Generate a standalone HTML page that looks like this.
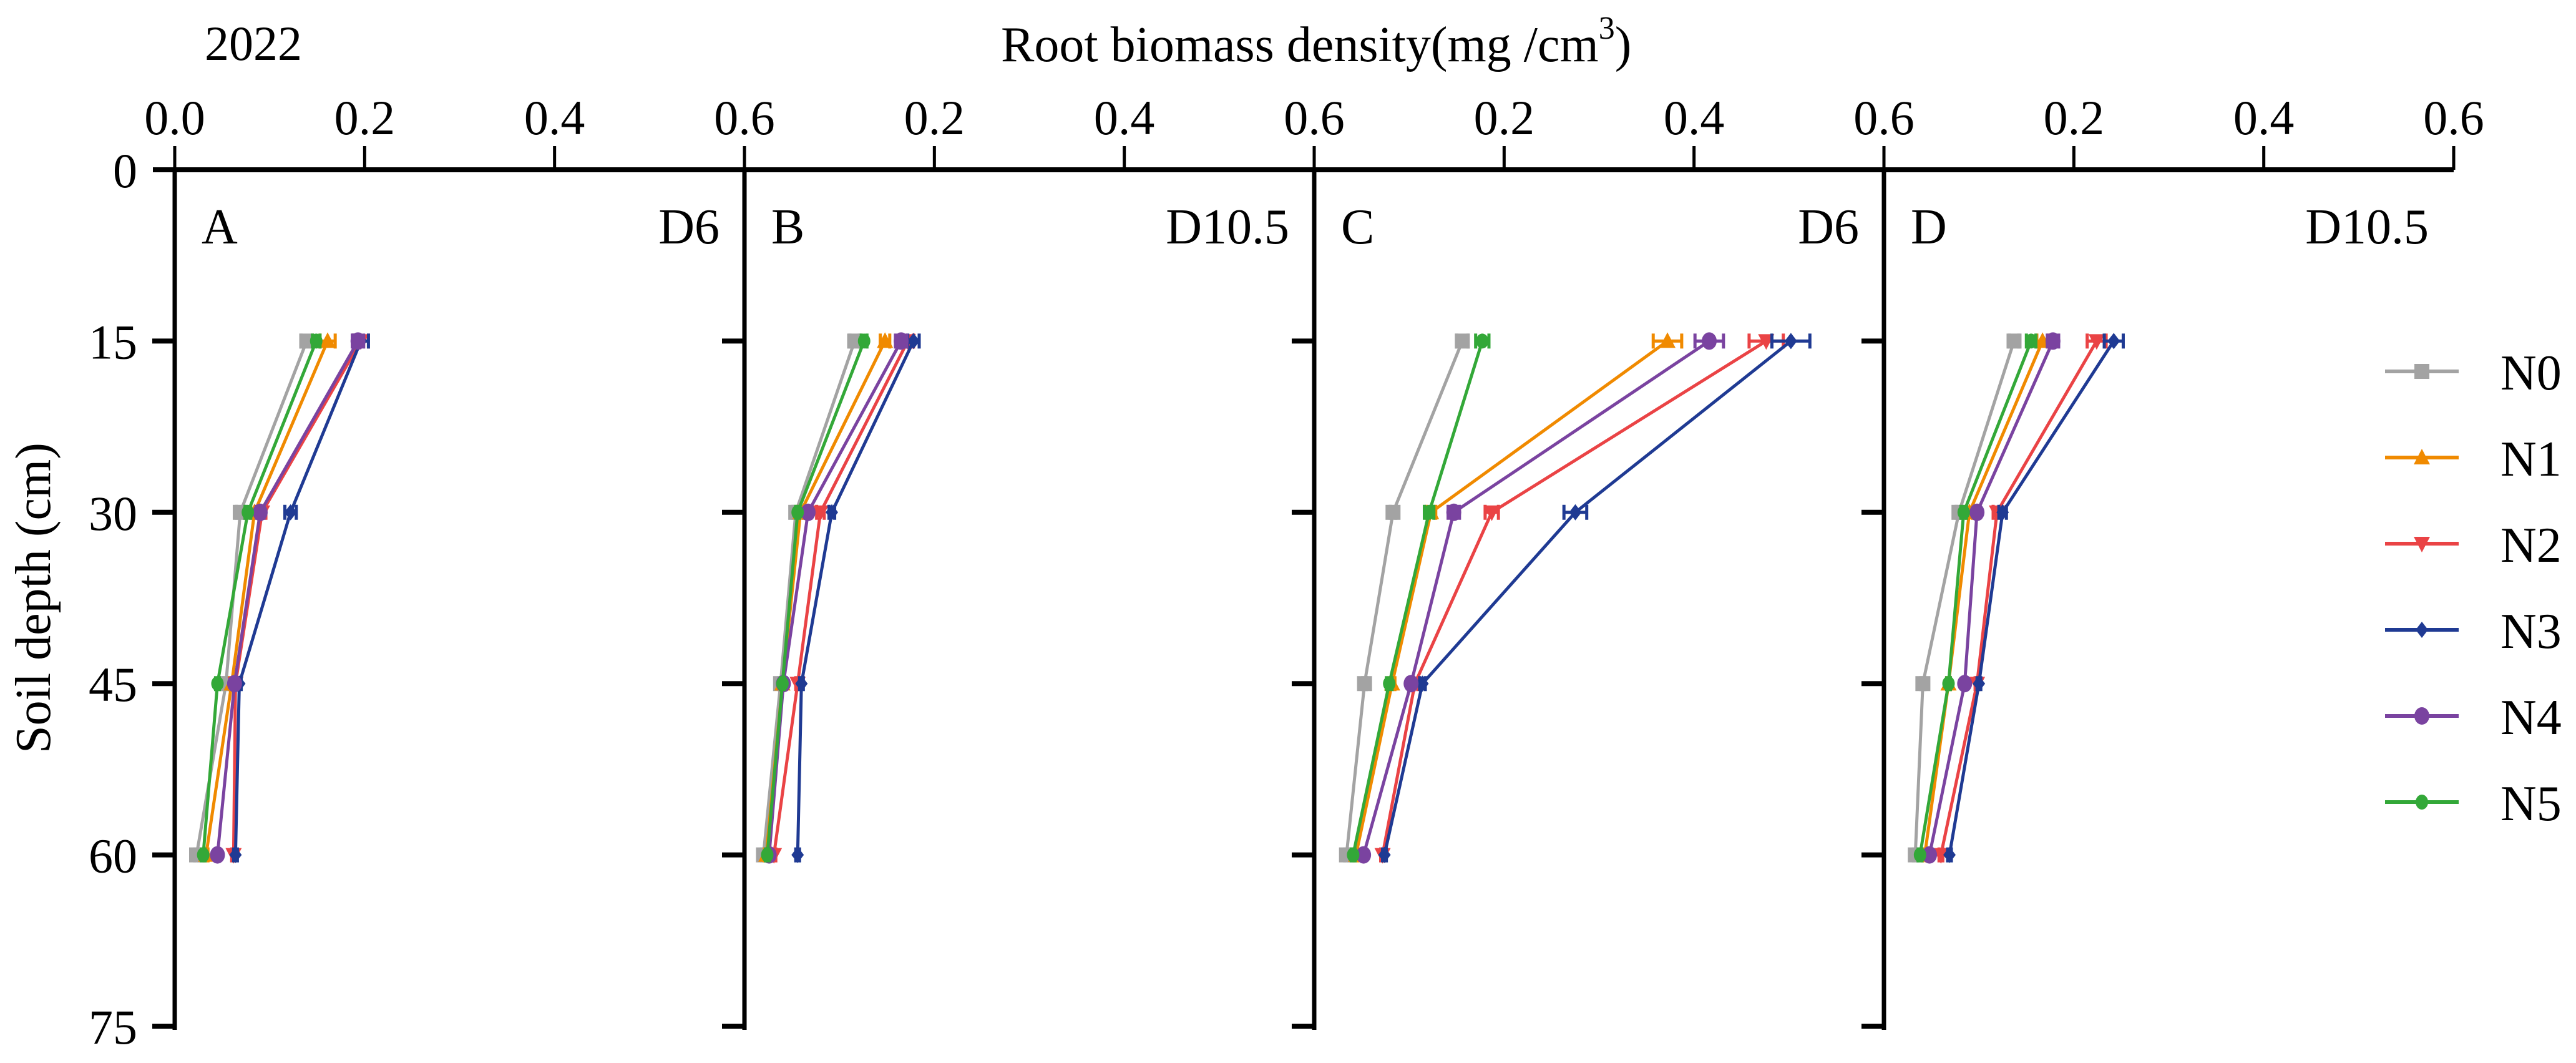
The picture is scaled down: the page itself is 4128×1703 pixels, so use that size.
<!DOCTYPE html>
<html><head><meta charset="utf-8"><style>
html,body{margin:0;padding:0;background:#fff}
svg{display:block}
text{font-family:"Liberation Serif",serif;fill:#000}
</style></head><body>
<svg id="chart" width="4128" height="1703" viewBox="0 0 4128 1703" xmlns="http://www.w3.org/2000/svg">
<text x="328" y="96" font-size="78">2022</text>
<text x="1604" y="98" font-size="80">Root biomass density(mg /cm<tspan font-size="52" dy="-36">3</tspan><tspan dy="36">)</tspan></text>
<text transform="translate(80,958) rotate(-90)" text-anchor="middle" font-size="80">Soil depth (cm)</text>
<g id="axes"></g>
<g id="marks"></g>
<g id="legend"></g>
</svg>
<script>
const depths = [15, 30, 45, 60];
const yTicks = [0, 15, 30, 45, 60, 75];
const xTickLabels = ["0.0","0.2","0.4","0.6","0.2","0.4","0.6","0.2","0.4","0.6","0.2","0.4","0.6"];
const panelLetters = ["A","B","C","D"];
const panelTags = ["D6","D10.5","D6","D10.5"];
const seriesNames = ["N0","N1","N2","N3","N4","N5"];
const panelA = [[0.139,0.069,0.054,0.023],[0.161,0.084,0.060,0.033],[0.196,0.092,0.064,0.062],[0.196,0.122,0.068,0.064],[0.193,0.090,0.063,0.045],[0.149,0.077,0.045,0.030]];
const panelB = [[0.116,0.054,0.038,0.020],[0.148,0.059,0.040,0.023],[0.172,0.080,0.056,0.031],[0.178,0.092,0.060,0.056],[0.165,0.067,0.041,0.026],[0.126,0.056,0.040,0.024]];
const panelC = [[0.156,0.083,0.053,0.034],[0.372,0.123,0.082,0.044],[0.476,0.187,0.106,0.072],[0.502,0.275,0.114,0.074],[0.416,0.147,0.102,0.052],[0.177,0.121,0.079,0.041]];
const panelD = [[0.137,0.079,0.041,0.033],[0.167,0.090,0.068,0.043],[0.224,0.119,0.098,0.060],[0.242,0.125,0.100,0.069],[0.178,0.098,0.085,0.048],[0.155,0.084,0.068,0.038]];
const errA = [[0.006,0.004,0.003,0.002],[0.008,0.004,0.002,0.002],[0.008,0.004,0.002,0.002],[0.008,0.006,0.002,0.002],[0.006,0.004,0.002,0.002],[0.004,0.003,0.002,0.002]];
const errB = [[0.005,0.003,0.002,0.002],[0.005,0.003,0.002,0.002],[0.006,0.004,0.002,0.002],[0.006,0.003,0.002,0.002],[0.006,0.003,0.002,0.002],[0.003,0.002,0.002,0.002]];
const errC = [[0.006,0.003,0.002,0.002],[0.015,0.005,0.003,0.002],[0.018,0.007,0.003,0.002],[0.02,0.012,0.003,0.002],[0.015,0.006,0.003,0.002],[0.007,0.005,0.003,0.002]];
const errD = [[0.005,0.003,0.002,0.002],[0.006,0.003,0.002,0.002],[0.01,0.004,0.002,0.002],[0.01,0.004,0.002,0.002],[0.006,0.003,0.002,0.002],[0.005,0.003,0.002,0.002]];
const panels = [panelA, panelB, panelC, panelD];
const errs = [errA, errB, errC, errD];
const colors = ["#a3a3a3","#f08a00","#ea4345","#1f3a93","#7a43a0","#33a838"];
const shapes = ["square","tri-up","tri-down","diamond","circle","dot"];

const NS = "http://www.w3.org/2000/svg";
const X0 = 280, PW = 913, Y0 = 272, YB = 1644, XMAX = 0.6, YMAX = 75;
function xs(p, v){ return X0 + p*PW + v/XMAX*PW; }
function ys(d){ return Y0 + d/YMAX*(YB-Y0); }
function mk(tag, attrs, parent){ const e=document.createElementNS(NS,tag); for(const k in attrs) e.setAttribute(k,attrs[k]); parent.appendChild(e); return e; }
const axes=document.getElementById('axes'), marks=document.getElementById('marks'), legend=document.getElementById('legend');

let xl = mk('line',{x1:245,y1:Y0,x2:X0+4*PW,y2:Y0,stroke:'#000','stroke-width':8},axes);


for(let i=0;i<=12;i++){
  const x = X0 + i*PW/3;
  let t = mk('line',{x1:x,y1:Y0,x2:x,y2:Y0-38,stroke:'#000','stroke-width':5},axes);
  
  
  let tl = mk('text',{x:x,y:215,'text-anchor':'middle','font-size':78},axes);
  tl.textContent = xTickLabels[i];
  
  
}
for(let p=0;p<4;p++){
  const ax = X0 + p*PW;
  let v = mk('line',{x1:ax,y1:Y0,x2:ax,y2:1650,stroke:'#000','stroke-width':7},axes);
  
  
  yTicks.forEach(d=>{
    if(d===0) return;
    let t = mk('line',{x1:ax-36,y1:ys(d),x2:ax,y2:ys(d),stroke:'#000','stroke-width':8},axes);
    
    
  });
  let pl = mk('text',{x:ax+43,y:390,'font-size':80},axes);
  pl.textContent = panelLetters[p];
  
  
  let pt = mk('text',{x:ax+PW-40,y:390,'font-size':80,'text-anchor':'end'},axes);
  pt.textContent = panelTags[p];
  
  
}
yTicks.forEach(d=>{
  let tl = mk('text',{x:220,y:ys(d)+28,'text-anchor':'end','font-size':78},axes);
  tl.textContent = d;
  
  
});

function marker(shape,x,y,c,parent){
  let e;
  if(shape==='square') e=mk('rect',{x:x-12,y:y-12,width:24,height:24,fill:c},parent);
  else if(shape==='tri-up') e=mk('polygon',{points:`${x},${y-14} ${x-13},${y+11} ${x+13},${y+11}`,fill:c},parent);
  else if(shape==='tri-down') e=mk('polygon',{points:`${x},${y+14} ${x-13},${y-11} ${x+13},${y-11}`,fill:c},parent);
  else if(shape==='diamond') e=mk('polygon',{points:`${x},${y-13} ${x+10},${y} ${x},${y+13} ${x-10},${y}`,fill:c},parent);
  else if(shape==='circle') e=mk('ellipse',{cx:x,cy:y,rx:12,ry:14,fill:c},parent);
  else e=mk('ellipse',{cx:x,cy:y,rx:10,ry:12,fill:c},parent);
  return e;
}

for(let p=0;p<4;p++){
  for(let s=0;s<6;s++){
    const vals = panels[p][s], er = errs[p][s], c = colors[s];
    const pts = vals.map((v,i)=>xs(p,v)+','+ys(depths[i])).join(' ');
    let pl = mk('polyline',{points:pts,fill:'none',stroke:c,'stroke-width':5},marks);
    
    
    vals.forEach((v,i)=>{
      const y=ys(depths[i]), xa=xs(p,v-er[i]), xb=xs(p,v+er[i]);
      let eb = mk('path',{d:`M${xa},${y}H${xb}M${xa},${y-12}V${y+12}M${xb},${y-12}V${y+12}`,stroke:c,'stroke-width':5,fill:'none'},marks);
      
      
      let m = marker(shapes[s],xs(p,v),y,c,marks);
      
      
    });
  }
}

for(let s=0;s<6;s++){
  const y = 595 + s*138, c = colors[s];
  let g = mk('g',{},legend);
  
  
  mk('line',{x1:3822,y1:y,x2:3940,y2:y,stroke:c,'stroke-width':6},g);
  marker(shapes[s],3881,y,c,g);
  let t = mk('text',{x:4007,y:y+29,'font-size':80},g);
  t.textContent = seriesNames[s];
}
</script>
</body></html>
